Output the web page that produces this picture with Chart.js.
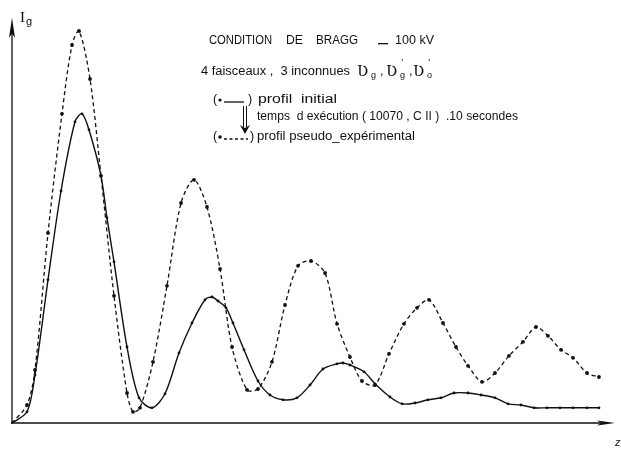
<!DOCTYPE html>
<html>
<head>
<meta charset="utf-8">
<script src="https://cdn.jsdelivr.net/npm/chart.js@4.4.1/dist/chart.umd.min.js"></script>
<style>
  html, body { margin: 0; padding: 0; background: #fff; }
  #wrap { width: 621px; height: 449px; position: relative; }
</style>
</head>
<body>
<div id="wrap"><canvas id="c" width="621" height="449"></canvas></div>
<script>
// ---- data (z in arbitrary units, Ig in arbitrary units) ----
const zPseudo = [0, 0.25, 0.383, 0.6, 0.833, 1.0, 1.117, 1.3, 1.483, 1.7, 1.917, 2.017, 2.133, 2.35, 2.583, 2.817, 3.033, 3.25, 3.467, 3.667, 3.917, 4.1, 4.333, 4.55, 4.767, 4.983, 5.217, 5.417, 5.633, 5.833, 6.05, 6.283, 6.533, 6.75, 6.95, 7.183, 7.4, 7.6, 7.833, 8.05, 8.283, 8.517, 8.733, 8.933, 9.15, 9.35, 9.583, 9.783];
const igPseudo = [0, 0.45, 1.33, 4.75, 7.73, 9.45, 9.8, 8.6, 6.18, 3.18, 0.75, 0.28, 0.38, 1.53, 3.43, 5.5, 6.08, 5.4, 3.85, 1.9, 0.83, 0.85, 1.53, 2.95, 3.93, 4.05, 3.75, 2.48, 1.65, 1.05, 0.95, 1.73, 2.48, 2.88, 3.08, 2.5, 1.9, 1.43, 1.03, 1.25, 1.68, 2.03, 2.4, 2.18, 1.83, 1.63, 1.25, 1.15];

const zInitial = [0, 0.25, 0.383, 0.6, 0.817, 1.05, 1.167, 1.283, 1.483, 1.583, 1.7, 1.917, 2.117, 2.333, 2.55, 2.783, 3.0, 3.217, 3.333, 3.433, 3.567, 3.683, 3.867, 4.1, 4.3, 4.517, 4.75, 4.967, 5.183, 5.417, 5.517, 5.633, 5.867, 6.05, 6.3, 6.5, 6.717, 6.933, 7.15, 7.367, 7.6, 7.817, 8.05, 8.267, 8.483, 8.7, 8.917, 9.133, 9.35, 9.583, 9.783];
const igInitial = [0, 0.28, 1.2, 3.58, 5.8, 7.53, 7.73, 7.33, 6.18, 5.13, 4.03, 1.9, 0.63, 0.38, 0.73, 1.75, 2.5, 3.08, 3.15, 3.05, 2.88, 2.5, 1.83, 1.05, 0.7, 0.58, 0.63, 0.95, 1.35, 1.48, 1.5, 1.45, 1.28, 0.98, 0.65, 0.48, 0.5, 0.58, 0.63, 0.75, 0.75, 0.7, 0.63, 0.48, 0.45, 0.38, 0.38, 0.38, 0.38, 0.38, 0.38];

const yAxisLabel = 'I';
const yAxisSub = 'g';
const xAxisLabel = 'z';
const titleLine1 = ['CONDITION', 'DE', 'BRAGG', '_', '100 kV'];
const titleLine2a = '4 faisceaux ,  3 inconnues';
const legendInitial = 'profil  initial';
const runInfo = 'temps  d exécution ( 10070 , C II )  .10 secondes';
const legendPseudo = 'profil pseudo_expérimental';

const toPts = (xs, ys) => xs.map((x, i) => ({ x: x, y: ys[i] }));

const FONT = '"Liberation Sans", "DejaVu Sans", sans-serif';

function fit(ctx, text, x1, x2, yBase, font) {
  ctx.font = font;
  const w = ctx.measureText(text).width;
  ctx.save();
  ctx.translate(x1, yBase);
  ctx.scale((x2 - x1) / w, 1);
  ctx.fillText(text, 0, 0);
  ctx.restore();
}

const decor = {
  id: 'decor',
  beforeDatasetsDraw(chart) {
    const ctx = chart.ctx;
    const xs = chart.scales.x, ys = chart.scales.y;
    const x0 = xs.getPixelForValue(0), y0 = ys.getPixelForValue(0);
    const yTop = ys.getPixelForValue(10.13);
    const xEnd = xs.getPixelForValue(10.05);
    ctx.save();
    ctx.strokeStyle = '#111';
    ctx.fillStyle = '#111';
    ctx.lineWidth = 1.3;
    // y axis
    ctx.beginPath(); ctx.moveTo(x0, y0 + 1); ctx.lineTo(x0, yTop + 12); ctx.stroke();
    ctx.beginPath(); ctx.moveTo(x0, yTop); ctx.lineTo(x0 - 3, yTop + 20); ctx.lineTo(x0, yTop + 16); ctx.lineTo(x0 + 3, yTop + 20); ctx.closePath(); ctx.fill();
    // x axis
    ctx.beginPath(); ctx.moveTo(x0 - 1, y0); ctx.lineTo(xEnd - 10, y0); ctx.stroke();
    ctx.beginPath(); ctx.moveTo(xEnd, y0); ctx.lineTo(xEnd - 18, y0 - 2.5); ctx.lineTo(xEnd - 14, y0); ctx.lineTo(xEnd - 18, y0 + 2.5); ctx.closePath(); ctx.fill();
    ctx.restore();
  },
  afterDraw(chart) {
    const ctx = chart.ctx;
    ctx.save();
    ctx.fillStyle = '#111';
    ctx.strokeStyle = '#111';
    ctx.textBaseline = 'alphabetic';
    // axis labels
    ctx.font = '15px "Liberation Serif", serif';
    ctx.fillText(yAxisLabel, 20, 22);
    ctx.font = '11px ' + FONT;
    ctx.fillText(yAxisSub, 26, 25);
    ctx.font = 'italic 11px ' + FONT;
    ctx.fillText(xAxisLabel, 615, 446);

    // line 1
    const f12 = '12.5px ' + FONT;
    fit(ctx, titleLine1[0], 209, 272, 44, f12);
    fit(ctx, titleLine1[1], 286, 303, 44, f12);
    fit(ctx, titleLine1[2], 316, 358, 44, f12);
    ctx.fillRect(378, 43, 10, 1.3);
    fit(ctx, titleLine1[4], 395, 434, 44, f12);

    // line 2
    fit(ctx, titleLine2a, 201, 350, 75, f12);
    // symbols  Ʋg ,Ʋ'g ,Ʋ'o
    const sym = '\u01B2';
    const fs = '15px "DejaVu Serif", serif';
    const fsub = '9px ' + FONT;
    ctx.font = fs; ctx.fillText(sym, 357, 76);
    ctx.font = fsub; ctx.fillText('g', 371, 78);
    ctx.font = f12; ctx.fillText(',', 380, 75);
    ctx.font = fs; ctx.fillText(sym, 386, 76);
    ctx.font = fsub; ctx.fillText('g', 400, 78);
    ctx.font = '10px ' + FONT; ctx.fillText('\u2019', 401, 67);
    ctx.font = f12; ctx.fillText(',', 409, 75);
    ctx.font = fs; ctx.fillText(sym, 413, 76);
    ctx.font = fsub; ctx.fillText('o', 427, 78);
    ctx.font = '10px ' + FONT; ctx.fillText('\u2019', 428, 67);

    // legend line: initial
    ctx.font = f12;
    ctx.fillText('(', 213, 103);
    ctx.beginPath(); ctx.arc(220, 100, 1.6, 0, Math.PI * 2); ctx.fill();
    ctx.lineWidth = 1.3;
    ctx.beginPath(); ctx.moveTo(224, 102); ctx.lineTo(244, 102); ctx.stroke();
    ctx.fillText(')', 248, 103);
    fit(ctx, legendInitial, 258, 337, 103, f12);

    // run info
    fit(ctx, runInfo, 257, 518, 120, f12);

    // arrow
    ctx.lineWidth = 1;
    ctx.beginPath(); ctx.moveTo(243.5, 106); ctx.lineTo(243.5, 127); ctx.stroke();
    ctx.beginPath(); ctx.moveTo(246.5, 106); ctx.lineTo(246.5, 127); ctx.stroke();
    ctx.beginPath(); ctx.moveTo(240, 125); ctx.lineTo(245, 134); ctx.lineTo(250, 125); ctx.lineTo(245, 128); ctx.closePath(); ctx.fill();

    // legend line: pseudo
    ctx.font = f12;
    ctx.fillText('(', 213, 140);
    ctx.beginPath(); ctx.arc(220, 137, 1.8, 0, Math.PI * 2); ctx.fill();
    ctx.lineWidth = 1.3;
    ctx.setLineDash([3, 2.5]);
    ctx.beginPath(); ctx.moveTo(224, 139); ctx.lineTo(248, 139); ctx.stroke();
    ctx.setLineDash([]);
    ctx.fillText(')', 250, 140);
    fit(ctx, legendPseudo, 257, 415, 140, f12);
    ctx.restore();
  }
};

new Chart(document.getElementById('c'), {
  type: 'line',
  data: {
    datasets: [
      {
        label: 'profil pseudo-expérimental',
        data: toPts(zPseudo, igPseudo),
        borderColor: '#111',
        backgroundColor: '#111',
        borderWidth: 1.3,
        borderDash: [4, 3],
        pointRadius: 1.9,
        pointBorderWidth: 0,
        tension: 0.3,
        fill: false
      },
      {
        label: 'profil initial',
        data: toPts(zInitial, igInitial),
        borderColor: '#111',
        backgroundColor: '#111',
        borderWidth: 1.4,
        pointRadius: 1.4,
        pointBorderWidth: 0,
        tension: 0.3,
        fill: false
      }
    ]
  },
  options: {
    responsive: false,
    animation: false,
    layout: { padding: { left: 12, right: 9, top: 23, bottom: 26 } },
    plugins: { legend: { display: false }, tooltip: { enabled: false }, title: { display: false } },
    scales: {
      x: { type: 'linear', min: 0, max: 10, display: false },
      y: { type: 'linear', min: 0, max: 10, display: false }
    }
  },
  plugins: [decor]
});
</script>
</body>
</html>
